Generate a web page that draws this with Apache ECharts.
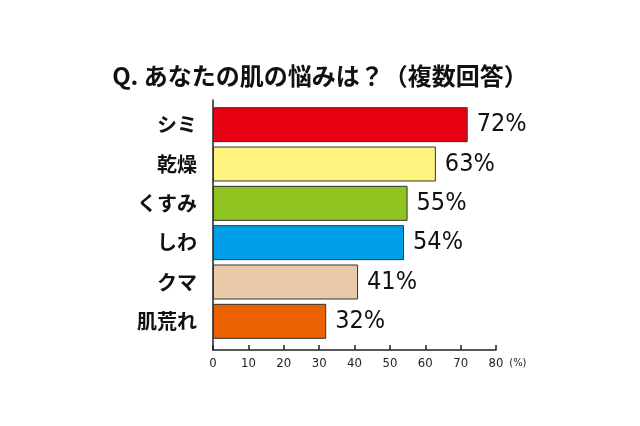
<!DOCTYPE html>
<html>
<head>
<meta charset="utf-8">
<script src="https://cdn.jsdelivr.net/npm/echarts@6/dist/echarts.min.js"></script>
<style>
  html, body { margin: 0; padding: 0; background: #fff; }
  #chart { width: 640px; height: 426px; }
</style>
</head>
<body>
<div id="chart"></div>
<script>
// データ
const categories = ['シミ', '乾燥', 'くすみ', 'しわ', 'クマ', '肌荒れ']
const values = [72, 63, 55, 54, 41, 32]
const barColors = ['#e60012', '#fff380', '#8fc31f', '#00a0e9', '#e8c9a8', '#eb6100']
const xTicks = [0, 10, 20, 30, 40, 50, 60, 70, 80]

const chart = echarts.init(document.getElementById('chart'))

const numFont = "'Liberation Sans Narrow', 'DejaVu Sans Condensed', 'Liberation Sans', sans-serif"
const jpFont = "'Noto Sans CJK JP', sans-serif"

chart.setOption({
  animation: false,
  title: {
    text: 'Q. あなたの肌の悩みは？（複数回答）',
    left: 'center',
    top: 59,
    textStyle: { fontFamily: jpFont, fontSize: 24, fontWeight: 'bold', color: '#111' },
  },
  grid: [
    // 棒グラフ用
    { left: 213, right: 144, top: 105, bottom: 85 },
    // 軸用
    { left: 213, right: 144, top: 100, bottom: 76 },
  ],
  xAxis: [
    {
      gridIndex: 0,
      type: 'value',
      min: 0,
      max: 80,
      show: false,
    },
    {
      gridIndex: 1,
      type: 'value',
      min: xTicks[0],
      max: xTicks[xTicks.length - 1],
      interval: 10,
      name: '(%)',
      nameLocation: 'end',
      nameGap: 12,
      nameTextStyle: { fontFamily: numFont, fontSize: 11, color: '#222', verticalAlign: 'top', padding: [8, 0, 0, 0] },
      axisLine: { show: true, lineStyle: { color: '#222', width: 1.5 } },
      axisTick: { show: true, inside: true, length: 5, lineStyle: { color: '#222', width: 1.5 } },
      axisLabel: { fontFamily: numFont, fontSize: 13, color: '#222', margin: 7 },
      splitLine: { show: false },
    },
  ],
  yAxis: [
    {
      gridIndex: 0,
      type: 'category',
      data: categories,
      inverse: true,
      axisLine: { show: false },
      axisTick: { show: false },
      axisLabel: {
        fontFamily: jpFont,
        fontSize: 20,
        fontWeight: 'bold',
        color: '#111',
        margin: 16,
      },
    },
    {
      gridIndex: 1,
      type: 'value',
      axisLine: { show: true, lineStyle: { color: '#222', width: 1.5 } },
      axisTick: { show: false },
      axisLabel: { show: false },
      splitLine: { show: false },
    },
  ],
  series: [
    {
      type: 'bar',
      xAxisIndex: 0,
      yAxisIndex: 0,
      barWidth: 35,
      data: values.map((v, i) => ({
        value: v,
        itemStyle: { color: barColors[i] },
      })),
      itemStyle: { borderColor: '#333', borderWidth: 1 },
      label: {
        show: true,
        position: 'right',
        distance: 9,
        formatter: '{c}%',
        fontFamily: numFont,
        fontSize: 25,
        color: '#111',
      },
    },
  ],
})
</script>
</body>
</html>
